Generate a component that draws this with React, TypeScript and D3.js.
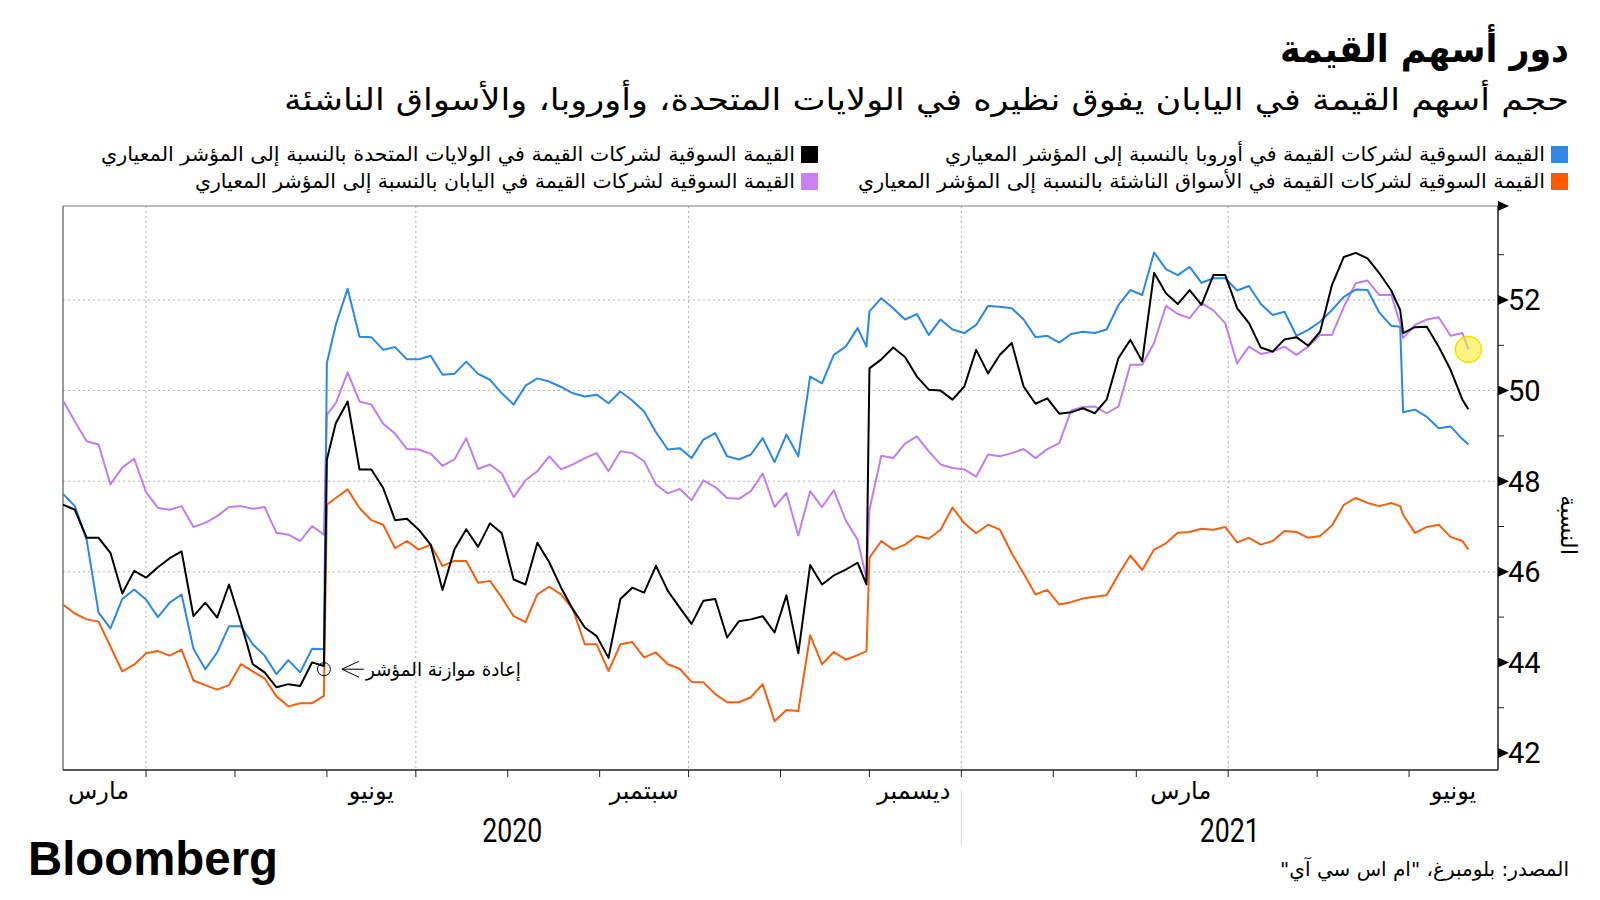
import React from 'react';
import * as d3 from 'd3';

const DATES = [
  '2020-03-04','2020-03-08','2020-03-12','2020-03-16','2020-03-20','2020-03-24','2020-03-28',
  '2020-04-01','2020-04-05','2020-04-09','2020-04-13','2020-04-17','2020-04-21','2020-04-25','2020-04-29',
  '2020-05-03','2020-05-07','2020-05-11','2020-05-15','2020-05-19','2020-05-23','2020-05-27','2020-05-31',
  '2020-06-01','2020-06-04','2020-06-08','2020-06-12','2020-06-16','2020-06-20','2020-06-24','2020-06-28',
  '2020-07-02','2020-07-06','2020-07-10','2020-07-14','2020-07-18','2020-07-22','2020-07-26','2020-07-30',
  '2020-08-03','2020-08-07','2020-08-11','2020-08-15','2020-08-19','2020-08-23','2020-08-27','2020-08-31',
  '2020-09-04','2020-09-08','2020-09-12','2020-09-16','2020-09-20','2020-09-24','2020-09-28',
  '2020-10-02','2020-10-06','2020-10-10','2020-10-14','2020-10-18','2020-10-22','2020-10-26','2020-10-30',
  '2020-11-03','2020-11-07','2020-11-11','2020-11-15','2020-11-19','2020-11-23','2020-11-27','2020-11-30',
  '2020-12-01','2020-12-05','2020-12-09','2020-12-13','2020-12-17','2020-12-21','2020-12-25','2020-12-29',
  '2021-01-02','2021-01-06','2021-01-10','2021-01-14','2021-01-18','2021-01-22','2021-01-26','2021-01-30',
  '2021-02-03','2021-02-07','2021-02-11','2021-02-15','2021-02-19','2021-02-23','2021-02-27',
  '2021-03-03','2021-03-07','2021-03-11','2021-03-15','2021-03-19','2021-03-23','2021-03-27','2021-03-31',
  '2021-04-04','2021-04-08','2021-04-12','2021-04-16','2021-04-20','2021-04-24','2021-04-28',
  '2021-05-02','2021-05-06','2021-05-10','2021-05-14','2021-05-18','2021-05-22','2021-05-26','2021-05-29','2021-05-30',
  '2021-06-03','2021-06-07','2021-06-11','2021-06-15','2021-06-19','2021-06-21',
];

// Value-stock market cap relative to benchmark — Europe (blue)
const EUROPE = [
  47.72, 47.45, 46.70, 45.10, 44.75, 45.40, 45.61,
  45.39, 45.00, 45.32, 45.50, 44.30, 43.85, 44.22, 44.80,
  44.80, 44.40, 44.15, 43.74, 44.05, 43.78, 44.30, 44.29,
  50.61, 51.45, 52.25, 51.19, 51.18, 50.90, 50.96, 50.69,
  50.69, 50.77, 50.35, 50.37, 50.64, 50.37, 50.24, 49.94,
  49.69, 50.11, 50.27, 50.20, 50.08, 49.94, 49.87, 49.91,
  49.72, 49.98, 49.78, 49.54, 49.08, 48.70, 48.73,
  48.51, 48.92, 49.06, 48.55, 48.48, 48.59, 48.95, 48.42,
  49.03, 48.55, 50.31, 50.16, 50.79, 50.97, 51.38, 50.97,
  51.75, 52.04, 51.82, 51.57, 51.69, 51.23, 51.57, 51.35,
  51.27, 51.45, 51.87, 51.85, 51.82, 51.57, 51.18, 51.21,
  51.06, 51.25, 51.30, 51.27, 51.35, 51.89, 52.22,
  52.11, 53.05, 52.68, 52.55, 52.73, 52.38, 52.48, 52.48,
  52.21, 52.31, 51.91, 51.67, 51.74, 51.21, 51.34,
  51.52, 51.78, 52.07, 52.23, 52.22, 51.72, 51.43, 51.41, 49.52,
  49.58, 49.42, 49.17, 49.21, 48.93, 48.81,
];

// United States (black)
const US = [
  47.48, 47.37, 46.75, 46.75, 46.42, 45.52, 46.02,
  45.87, 46.10, 46.30, 46.45, 45.02, 45.32, 44.99, 45.72,
  44.88, 43.96, 43.78, 43.45, 43.52, 43.48, 44.00, 43.92,
  48.48, 49.28, 49.76, 48.26, 48.26, 47.85, 47.14, 47.17,
  46.93, 46.60, 45.60, 46.49, 46.94, 46.55, 47.07, 46.85,
  45.83, 45.72, 46.64, 46.21, 45.65, 45.17, 44.77, 44.58,
  44.10, 45.40, 45.65, 45.54, 46.13, 45.58, 45.21,
  44.85, 45.36, 45.40, 44.55, 44.91, 44.95, 45.02, 44.66,
  45.48, 44.20, 46.15, 45.72, 45.92, 46.05, 46.20, 45.72,
  50.49, 50.69, 50.95, 50.74, 50.31, 50.02, 50.00, 49.80,
  50.09, 50.90, 50.38, 50.79, 51.05, 50.09, 49.71, 49.83,
  49.49, 49.52, 49.61, 49.50, 49.80, 50.72, 51.12,
  50.65, 52.60, 52.15, 51.91, 52.22, 51.89, 52.55, 52.55,
  51.82, 51.49, 50.95, 50.86, 51.13, 51.18, 50.99,
  51.30, 52.33, 52.95, 53.04, 52.92, 52.59, 52.21, 51.78, 51.27,
  51.40, 51.41, 50.97, 50.46, 49.80, 49.59,
];

// Japan (purple)
const JAPAN = [
  49.78, 49.32, 48.88, 48.81, 47.93, 48.30, 48.50,
  47.76, 47.41, 47.37, 47.45, 46.99, 47.08, 47.23, 47.43,
  47.45, 47.39, 47.43, 46.86, 46.82, 46.68, 47.01, 46.82,
  49.47, 49.72, 50.40, 49.76, 49.69, 49.27, 49.05, 48.71,
  48.70, 48.61, 48.34, 48.48, 48.95, 48.27, 48.37, 48.17,
  47.65, 48.02, 48.22, 48.55, 48.26, 48.37, 48.51, 48.62,
  48.22, 48.66, 48.62, 48.44, 47.93, 47.73, 47.83,
  47.58, 48.02, 47.87, 47.63, 47.61, 47.78, 48.17, 47.43,
  47.74, 46.80, 47.78, 47.43, 47.80, 47.14, 46.71, 45.85,
  47.37, 48.56, 48.51, 48.83, 48.99, 48.66, 48.37, 48.29,
  48.26, 48.10, 48.59, 48.55, 48.62, 48.71, 48.51, 48.71,
  48.84, 49.56, 49.64, 49.65, 49.50, 49.65, 50.57,
  50.57, 51.05, 51.87, 51.69, 51.60, 51.93, 51.77, 51.49,
  50.60, 50.97, 50.81, 50.86, 50.97, 50.79, 50.97,
  51.23, 51.23, 51.85, 52.37, 52.43, 52.11, 52.11, 51.49, 51.16,
  51.45, 51.57, 51.62, 51.21, 51.27, 50.91,
];

// Emerging markets (orange)
const EM = [
  45.28, 45.08, 44.95, 44.90, 44.35, 43.80, 43.95,
  44.20, 44.25, 44.15, 44.28, 43.60, 43.50, 43.40, 43.50,
  43.96, 43.80, 43.65, 43.25, 43.03, 43.10, 43.10, 43.26,
  47.48, 47.63, 47.82, 47.41, 47.14, 47.04, 46.52, 46.68,
  46.49, 46.60, 46.13, 46.24, 46.24, 45.76, 45.80, 45.43,
  45.02, 44.89, 45.50, 45.67, 45.50, 45.17, 44.40, 44.40,
  43.81, 44.40, 44.45, 44.11, 44.22, 43.96, 43.86,
  43.57, 43.56, 43.30, 43.12, 43.12, 43.23, 43.52, 42.70,
  42.95, 42.93, 44.60, 43.96, 44.23, 44.06, 44.16, 44.25,
  46.31, 46.68, 46.49, 46.60, 46.79, 46.73, 46.93, 47.42,
  47.07, 46.85, 47.04, 46.93, 46.41, 45.96, 45.50, 45.60,
  45.28, 45.33, 45.41, 45.45, 45.48, 45.94, 46.36,
  46.04, 46.49, 46.63, 46.86, 46.88, 46.95, 46.93, 46.99,
  46.65, 46.75, 46.60, 46.68, 46.90, 46.88, 46.75,
  46.79, 47.02, 47.48, 47.63, 47.52, 47.45, 47.52, 47.45, 47.26,
  46.86, 46.99, 47.04, 46.77, 46.68, 46.49,
];

const Y_TICKS = [42, 44, 46, 48, 50, 52];
const Y_MINOR = [43, 45, 47, 49, 51, 53];
const Y_GRID = [46, 48, 50, 52];
const X_GRID = ['2020-04-01', '2020-07-01', '2020-10-01', '2021-01-01', '2021-04-01'];
const MONTH_LABEL_DATES = ['2020-03-16', '2020-06-16', '2020-09-16', '2020-12-16', '2021-03-16', '2021-06-16'];
const MONTH_LABELS = ['مارس', 'يونيو', 'سبتمبر', 'ديسمبر', 'مارس', 'يونيو'];
const YEARS = ['2020', '2021'];

const TITLE = 'دور أسهم القيمة';
const SUBTITLE = 'حجم أسهم القيمة في اليابان يفوق نظيره في الولايات المتحدة، وأوروبا، والأسواق الناشئة';
const LEGEND_EUROPE = 'القيمة السوقية لشركات القيمة في أوروبا بالنسبة إلى المؤشر المعياري';
const LEGEND_EM = 'القيمة السوقية لشركات القيمة في الأسواق الناشئة بالنسبة إلى  المؤشر المعياري';
const LEGEND_US = 'القيمة السوقية لشركات القيمة في الولايات المتحدة بالنسبة إلى  المؤشر المعياري';
const LEGEND_JAPAN = 'القيمة السوقية لشركات القيمة في اليابان بالنسبة إلى المؤشر المعياري';
const ANNOTATION = 'إعادة موازنة المؤشر';
const Y_TITLE = 'النسبة';
const SOURCE = 'المصدر: بلومبرغ، "ام اس سي آي"';

const COLORS = { europe: '#2a88e6', us: '#000000', japan: '#c27cf4', em: '#f4600f' };
const AR_FONT = "'DejaVu Sans', 'Noto Sans', sans-serif";
const NUM_FONT = "'Liberation Sans Narrow', 'Roboto', sans-serif";

const parse = d3.timeParse('%Y-%m-%d');

export default function App() {
  const left = 63, right = 1498, top = 206, bottom = 770;
  const x = d3.scaleTime().domain([parse('2020-03-04')!, parse('2021-07-01')!]).range([left, right]);
  const y = d3.scaleLinear().domain([41.625, 54.075]).range([bottom, top]);
  const dates = DATES.map((d) => parse(d)!);

  const mk = (vals: number[]) =>
    d3.line<number>().x((_, i) => x(dates[i])).y((v) => y(v))(vals) || '';

  const series = [
    { vals: EM, color: COLORS.em },
    { vals: JAPAN, color: COLORS.japan },
    { vals: EUROPE, color: COLORS.europe },
    { vals: US, color: COLORS.us },
  ];

  const monthTicks = d3.timeMonth.range(new Date(2020, 3, 1), new Date(2021, 6, 1));
  const jan = x(parse('2021-01-01')!);

  const annX = x(parse('2020-05-31')!);
  const annY = y(43.85);
  const lastX = x(dates[dates.length - 1]);
  const lastY = y(JAPAN[JAPAN.length - 1]);

  const legend = [
    { text: LEGEND_EUROPE, color: '#2f8ae6', sx: 1551, row: 0, w: 600 },
    { text: LEGEND_EM, color: '#ff5a00', sx: 1551, row: 1, w: 687 },
    { text: LEGEND_US, color: '#000000', sx: 801, row: 0, w: 694 },
    { text: LEGEND_JAPAN, color: '#cc80f2', sx: 801, row: 1, w: 600 },
  ];

  return (
    <svg width={1600} height={900} style={{ position: 'absolute', left: 0, top: 0, background: '#fff' }}>
      <rect x={0} y={0} width={1600} height={900} fill="#fff" />
      <defs>
        <clipPath id="plotclip">
          <rect x={left} y={top} width={right - left} height={bottom - top} />
        </clipPath>
      </defs>

      {/* Title and subtitle */}
      <text x={1569} y={62} direction="rtl" textAnchor="start" fontFamily={AR_FONT} fontWeight={700}
        fontSize={38} fill="#000" textLength={289} lengthAdjust="spacingAndGlyphs">{TITLE}</text>
      <text x={1569} y={110} direction="rtl" textAnchor="start" fontFamily={AR_FONT}
        fontSize={30} fill="#000" textLength={1285} lengthAdjust="spacingAndGlyphs">{SUBTITLE}</text>

      {/* Legend */}
      {legend.map((l, i) => (
        <g key={i}>
          <rect x={l.sx} y={146 + l.row * 27} width={17} height={17} fill={l.color} />
          <text x={l.sx - 6} y={161 + l.row * 27} direction="rtl" textAnchor="start" fontFamily={AR_FONT}
            fontSize={20} fill="#000" textLength={l.w} lengthAdjust="spacingAndGlyphs">{l.text}</text>
        </g>
      ))}

      {/* Grid */}
      {Y_GRID.map((v) => (
        <line key={'gy' + v} x1={left} x2={right} y1={y(v)} y2={y(v)} stroke="#b0b0b0" strokeWidth={1} strokeDasharray="2,3" />
      ))}
      {X_GRID.map((d) => (
        <line key={'gx' + d} x1={x(parse(d)!)} x2={x(parse(d)!)} y1={top} y2={bottom} stroke="#b0b0b0" strokeWidth={1} strokeDasharray="2,3" />
      ))}

      {/* Frame */}
      <line x1={left} x2={right} y1={top} y2={top} stroke="#777" strokeWidth={1} />
      <line x1={left} x2={left} y1={top} y2={bottom} stroke="#555" strokeWidth={1.2} />

      {/* Lines */}
      <g clipPath="url(#plotclip)">
        {series.map((s, i) => (
          <path key={i} d={mk(s.vals)} fill="none" stroke={s.color} strokeWidth={2} strokeLinejoin="round" />
        ))}
      </g>

      {/* Highlight circle at latest Japan value */}
      <circle cx={lastX} cy={lastY} r={13} fill="#f8ec30" fillOpacity={0.6} stroke="#f2e000" strokeWidth={1.5} />

      {/* Annotation */}
      <circle cx={annX} cy={annY} r={6.5} fill="none" stroke="#000" strokeWidth={1} />
      <path d={`M${annX + 18},${annY} L${annX + 40},${annY} M${annX + 35},${annY - 8} L${annX + 18},${annY} L${annX + 35},${annY + 8}`}
        fill="none" stroke="#000" strokeWidth={1} />
      <text x={annX + 197} y={annY + 7} direction="rtl" textAnchor="start" fontFamily={AR_FONT} fontSize={19}
        fill="#000" textLength={155} lengthAdjust="spacingAndGlyphs">{ANNOTATION}</text>

      {/* Right y axis */}
      <line x1={right} x2={right} y1={top} y2={bottom} stroke="#222" strokeWidth={1.5} />
      {Y_TICKS.map((v) => (
        <g key={'yt' + v}>
          <path d={`M${right},${y(v) - 5} L${right + 11},${y(v)} L${right},${y(v) + 5} Z`} fill="#000" />
          <text x={right + 10} y={y(v)} dy="0.36em" fontFamily={NUM_FONT} fontSize={29} fill="#000">{v}</text>
        </g>
      ))}
      <path d={`M${right},${top - 5} L${right + 11},${top} L${right},${top + 5} Z`} fill="#000" />
      {Y_MINOR.map((v) => (
        <line key={'ym' + v} x1={right} x2={right + 6} y1={y(v)} y2={y(v)} stroke="#222" strokeWidth={1} />
      ))}
      <text transform={`translate(1561, 525) rotate(90)`} textAnchor="middle" fontFamily={AR_FONT} fontSize={23} fill="#000">{Y_TITLE}</text>

      {/* Bottom x axis */}
      <line x1={left} x2={right} y1={bottom} y2={bottom} stroke="#222" strokeWidth={1.5} />
      {monthTicks.map((d, i) => (
        <line key={'mt' + i} x1={x(d)} x2={x(d)} y1={bottom} y2={bottom + 7} stroke="#222" strokeWidth={1} />
      ))}
      {MONTH_LABEL_DATES.map((d, i) => (
        <text key={'ml' + i} x={x(parse(d)!)} y={799} textAnchor="middle" fontFamily={AR_FONT} fontSize={24} fill="#000">{MONTH_LABELS[i]}</text>
      ))}
      <line x1={jan} x2={jan} y1={790} y2={846} stroke="#ddd" strokeWidth={1} />
      <text x={(left + jan) / 2} y={842} textAnchor="middle" fontFamily={NUM_FONT} fontSize={33} fill="#000"
        textLength={60} lengthAdjust="spacingAndGlyphs">{YEARS[0]}</text>
      <text x={(jan + right) / 2} y={842} textAnchor="middle" fontFamily={NUM_FONT} fontSize={33} fill="#000"
        textLength={60} lengthAdjust="spacingAndGlyphs">{YEARS[1]}</text>

      {/* Footer */}
      <text x={28} y={875} fontFamily="'Liberation Sans', Arial, sans-serif" fontWeight={700} fontSize={48}
        fill="#000" textLength={250} lengthAdjust="spacingAndGlyphs">Bloomberg</text>
      <text x={1569} y={876} direction="rtl" textAnchor="start" fontFamily={AR_FONT} fontSize={20} fill="#000">{SOURCE}</text>
    </svg>
  );
}
